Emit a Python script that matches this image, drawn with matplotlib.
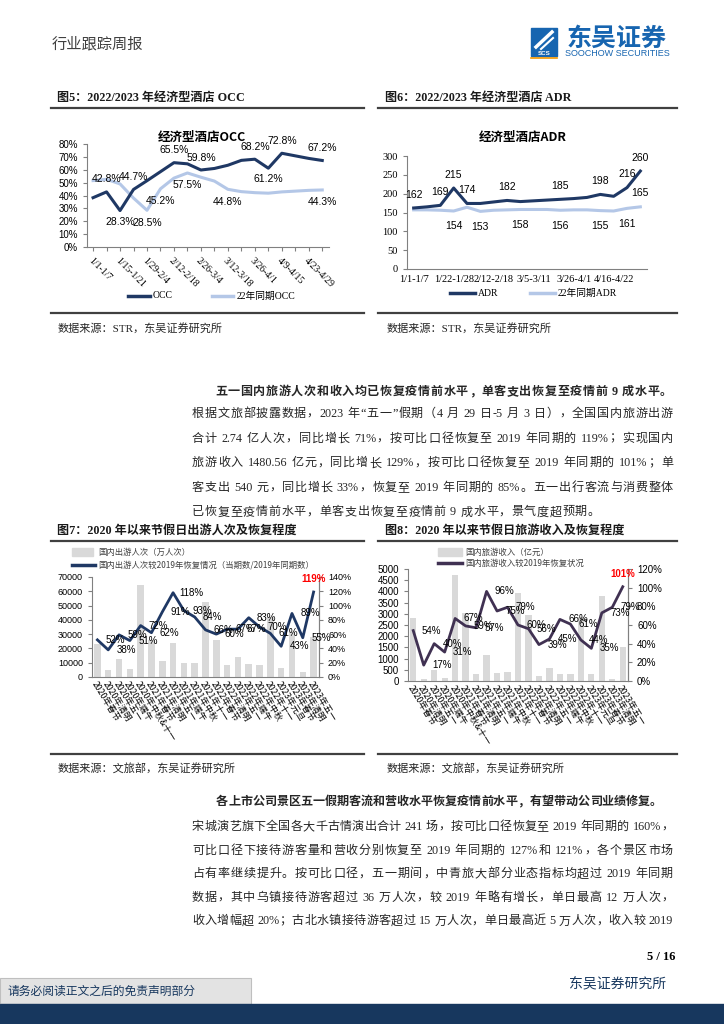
import re
import numpy as np
import matplotlib
matplotlib.use('Agg')
import matplotlib.pyplot as plt
from matplotlib.lines import Line2D
from matplotlib.patches import Rectangle

plt.rcParams['font.family'] = ['Liberation Sans', 'Noto Sans CJK SC']
plt.rcParams['axes.unicode_minus'] = False

SERIF = ['Liberation Serif', 'Noto Sans CJK SC']
SANS = ['Liberation Sans', 'Noto Sans CJK SC']
CJK = ['Noto Sans CJK SC', 'DejaVu Sans']

# ---------------- data ----------------
weeks = ['1/1-1/7', '1/8-1/14', '1/15-1/21', '1/22-1/28', '1/29-2/4', '2/5-2/11',
         '2/12-2/18', '2/19-2/25', '2/26-3/4', '3/5-3/11', '3/12-3/18', '3/19-3/25',
         '3/26-4/1', '4/2-4/8', '4/9-4/15', '4/16-4/22', '4/23-4/29', '4/30-5/6']
occ_2023 = [38.3, 42.8, 28.3, 44.7, 51.5, 58.5, 65.5, 64.6, 59.8, 61.0, 63.5, 67.3,
            68.2, 61.2, 72.8, 70.8, 68.8, 67.2]
occ_2022 = [51.6, 52.6, 49.0, 38.0, 28.5, 45.2, 53.5, 57.5, 54.2, 51.2, 44.8, 43.0,
            42.2, 41.8, 42.8, 43.4, 44.0, 44.3]
adr_2023 = [162, 165, 169, 215, 174, 174, 178, 182, 179, 181, 183, 185, 187, 190,
            198, 193, 216, 260]
adr_2022 = [157, 157, 156, 154, 164, 153, 156, 157, 158, 158, 158, 156, 157, 157,
            155, 154, 161, 165]

holidays = ['2020年春节', '2020年清明', '2020年五一', '2020年端午', '2020年中秋&十一',
            '2021年春节', '2021年清明', '2021年五一', '2021年端午', '2021年中秋', '2021年十一',
            '2022年春节', '2022年清明', '2022年五一', '2022年端午', '2022年中秋', '2022年十一',
            '2023年元旦', '2023年春节', '2023年清明', '2023年五一']
trips = [23000, 5100, 12400, 5400, 64600, 25600, 11000, 23800, 9600, 9600, 52500,
         25900, 8200, 13800, 8900, 8200, 42200, 6100, 31500, 3300, 28000]
trips_rec = [52, 38, 59, 51, 72, 62, 91, 118, 93, 84, 66, 60, 67, 67, 83, 70, 61,
             43, 89, 55, 119]
income = [2830, 100, 510, 150, 4715, 3050, 300, 1180, 345, 390, 3920, 2950, 210,
          570, 300, 315, 2870, 300, 3800, 90, 1510]
income_rec = [54, 17, 40, 31, 67, 59, 57, 96, 75, 79, 60, 56, 39, 45, 66, 61, 44,
              35, 73, 79, 101]

# labelled points (index, above=True / below=False)
occ23_lab = [(1, True), (2, False), (3, True), (6, True), (8, True), (12, True),
             (13, False), (14, True), (17, True)]
occ22_lab = [(4, False), (5, False), (7, False), (10, False), (17, False)]
adr23_lab = [0, 2, 3, 4, 7, 11, 14, 16, 17]
adr22_lab = [(3, False), (5, False), (8, False), (11, False), (14, False),
             (16, False), (17, True)]

NAVY = '#1f3864'
LIGHT = '#b4c7e7'
PURPLE = '#403152'
GREY_BAR = '#d9d9d9'
TXT = '#262626'

W, H = 724, 1024
fig = plt.figure(figsize=(7.24, 10.24), dpi=100)


def fx(x):
    return x / W


def fy(y):
    return 1 - y / H


def ax_at(l, t, r, b):
    return fig.add_axes([fx(l), fy(b), (r - l) / W, (b - t) / H])


def hline(x0, x1, y, color='#404040', lw=1.6):
    fig.add_artist(Line2D([fx(x0), fx(x1)], [fy(y), fy(y)], transform=fig.transFigure,
                          color=color, lw=lw))


def text_line(s, x0, y, x1=None, size=8.7, weight='normal', family=SERIF, color=TXT):
    "Places a line of text, spreading the tokens so the line fills x0..x1."
    r = fig.canvas.get_renderer()
    toks = re.findall(r'[0-9A-Za-z.%/\-&]+| |.', s)
    arts, widths = [], []
    for t in toks:
        if t == ' ':
            arts.append(None)
            widths.append(3.0)
            continue
        a = fig.text(0, fy(y), t, fontsize=size, fontweight=weight, family=family,
                     color=color, va='center', ha='left')
        arts.append(a)
        widths.append(a.get_window_extent(r).width)
    gap = 0.6
    if x1 is not None and len(toks) > 1:
        gap = ((x1 - x0) - sum(widths)) / (len(toks) - 1)
    x = x0
    for a, w in zip(arts, widths):
        if a is not None:
            a.set_x(fx(x))
        x += w + gap


def style_axis(ax, color='#808080'):
    for s in ['top', 'right']:
        ax.spines[s].set_visible(False)
    for s in ['left', 'bottom']:
        ax.spines[s].set_color(color)
        ax.spines[s].set_linewidth(0.8)
    ax.tick_params(colors=color, length=3, width=0.8, labelcolor='black')
    ax.set_facecolor('none')


# ---------------- header ----------------
fig.text(fx(52), fy(44), '行业跟踪周报', fontsize=11, family=CJK, color='#404040',
         va='center')
fig.add_artist(Rectangle((fx(531), fy(51)), 26 / W, 23 / H, transform=fig.transFigure,
                         color='#1765b0'))
fig.add_artist(Line2D([fx(536), fx(552)], [fy(47), fy(32)], transform=fig.transFigure,
                      color='white', lw=2.5))
fig.add_artist(Line2D([fx(541), fx(553)], [fy(49), fy(38)], transform=fig.transFigure,
                      color='white', lw=1.5))
fig.add_artist(Rectangle((fx(531), fy(56)), 26 / W, 5 / H, transform=fig.transFigure,
                         color='#1765b0'))
fig.text(fx(544), fy(53.5), 'SCS', fontsize=4.5, color='white', weight='bold',
         ha='center', va='center')
hline(531, 557, 57.5, color='#f39800', lw=1.2)
fig.text(fx(617), fy(39), '东吴证券', fontsize=18, family=CJK, weight='bold',
         color='#1765b0', ha='center', va='center')
fig.text(fx(617), fy(54), 'SOOCHOW SECURITIES', fontsize=6.5, color='#1765b0',
         ha='center', va='center')

# ---------------- figure titles ----------------
fig.text(fx(57), fy(98), '图5：2022/2023 年经济型酒店 OCC', fontsize=8.7, family=SERIF,
         weight='bold', va='center', color='#1a1a1a')
fig.text(fx(385), fy(98), '图6：2022/2023 年经济型酒店 ADR', fontsize=8.7, family=SERIF,
         weight='bold', va='center', color='#1a1a1a')
hline(51, 364, 108)
hline(378, 677, 108)

# ---------------- OCC chart ----------------
x = np.arange(len(weeks))
ax = ax_at(87, 144, 329, 247)
ax.plot(x, occ_2022, color=LIGHT, lw=2.2)
ax.plot(x, occ_2023, color=NAVY, lw=2.2)
ax.set_xlim(-0.45, 17.5)
ax.set_ylim(0, 80)
ax.set_yticks(range(0, 81, 10))
ax.set_yticklabels([f'{v}%' for v in range(0, 81, 10)], fontsize=7, family=SANS)
ax.set_xticks(x)
ax.set_xticklabels([w if i % 2 == 0 else '' for i, w in enumerate(weeks)], rotation=-45,
                   ha='left', va='top', rotation_mode='anchor', fontsize=7, family=SERIF)
style_axis(ax)
for i, up in occ23_lab:
    ax.annotate(f'{occ_2023[i]:.1f}%', (i, occ_2023[i]), xytext=(0, 9 if up else -8),
                textcoords='offset points', ha='center', va='center', fontsize=7.5)
for i, up in occ22_lab:
    ax.annotate(f'{occ_2022[i]:.1f}%', (i, occ_2022[i]), xytext=(0, 9 if up else -9),
                textcoords='offset points', ha='center', va='center', fontsize=7.5)
fig.text(fx(202), fy(137), '经济型酒店OCC', fontsize=9, family=CJK, weight='bold',
         ha='center', va='center')
hline(128, 150, 296, color=NAVY, lw=2.5)
fig.text(fx(153), fy(296), 'OCC', fontsize=7, family=SERIF, va='center')
hline(212, 233, 296, color=LIGHT, lw=2.5)
fig.text(fx(237), fy(296), '22年同期OCC', fontsize=7, family=SERIF, va='center')

# ---------------- ADR chart ----------------
ax = ax_at(407, 156, 647, 269)
ax.plot(x, adr_2022, color=LIGHT, lw=2.2)
ax.plot(x, adr_2023, color=NAVY, lw=2.2)
ax.set_xlim(-0.5, 17.5)
ax.set_ylim(0, 300)
ax.set_yticks(range(0, 301, 50))
ax.set_yticklabels([str(v) for v in range(0, 301, 50)], fontsize=7.5, family=SERIF)
ax.set_xticks(x[::3])
ax.set_xticklabels(weeks[::3], fontsize=7.5, family=SERIF)
style_axis(ax)
ax.tick_params(axis='x', length=0, pad=4)
for i in adr23_lab:
    ax.annotate(str(adr_2023[i]), (i, adr_2023[i]), xytext=(0, 9.5),
                textcoords='offset points', ha='center', va='center', fontsize=7.5)
for i, up in adr22_lab:
    ax.annotate(str(adr_2022[i]), (i, adr_2022[i]), xytext=(0, 10 if up else -11),
                textcoords='offset points', ha='center', va='center', fontsize=7.5)
fig.text(fx(523), fy(137), '经济型酒店ADR', fontsize=9, family=CJK, weight='bold',
         ha='center', va='center')
hline(450, 475, 293, color=NAVY, lw=2.5)
fig.text(fx(478), fy(293), 'ADR', fontsize=7, family=SERIF, va='center')
hline(530, 555, 293, color=LIGHT, lw=2.5)
fig.text(fx(558), fy(293), '22年同期ADR', fontsize=7, family=SERIF, va='center')

hline(51, 364, 313)
hline(378, 677, 313)
fig.text(fx(58), fy(328), '数据来源：STR，东吴证券研究所', fontsize=8, family=SERIF,
         va='center', color=TXT)
fig.text(fx(387), fy(328), '数据来源：STR，东吴证券研究所', fontsize=8, family=SERIF,
         va='center', color=TXT)

# ---------------- paragraph 1 ----------------
text_line('五一国内旅游人次和收入均已恢复疫情前水平，单客支出恢复至疫情前 9 成水平。',
          215, 392, 672, weight='bold')
para1 = ['根据文旅部披露数据，2023 年“五一”假期（4 月 29 日-5 月 3 日），全国国内旅游出游',
         '合计 2.74 亿人次，同比增长 71%，按可比口径恢复至 2019 年同期的 119%；实现国内',
         '旅游收入 1480.56 亿元，同比增长 129%，按可比口径恢复至 2019 年同期的 101%；单',
         '客支出 540 元，同比增长 33%，恢复至 2019 年同期的 85%。五一出行客流与消费整体',
         '已恢复至疫情前水平，单客支出恢复至疫情前 9 成水平，景气度超预期。']
for k, line in enumerate(para1):
    text_line(line, 192, 414 + 24.6 * k, None if k == len(para1) - 1 else 673)

# ---------------- figure 7 / 8 titles ----------------
fig.text(fx(57), fy(531), '图7：2020 年以来节假日出游人次及恢复程度', fontsize=8.7,
         family=SERIF, weight='bold', va='center', color='#1a1a1a')
fig.text(fx(385), fy(531), '图8：2020 年以来节假日旅游收入及恢复程度', fontsize=8.7,
         family=SERIF, weight='bold', va='center', color='#1a1a1a')
hline(51, 364, 541)
hline(378, 677, 541)


def holiday_chart(l, t, r, b, bars, rec, ymax, ystep, rmax, color, fsize):
    xx = np.arange(len(holidays))
    ax = ax_at(l, t, r, b)
    ax.bar(xx, bars, width=0.6, color=GREY_BAR)
    ax.set_xlim(-0.5, len(holidays) - 0.5)
    ax.set_ylim(0, ymax)
    ax.set_yticks(np.arange(0, ymax + 1, ystep))
    ax.set_yticklabels([str(int(v)) for v in np.arange(0, ymax + 1, ystep)],
                       fontsize=fsize, family=SANS)
    ax.set_xticks(xx)
    ax.set_xticklabels(holidays, rotation=-58, ha='left', va='top',
                       rotation_mode='anchor', fontsize=6.3, family=CJK)
    style_axis(ax)
    ax.tick_params(axis='x', length=0, pad=2)
    ax.spines['right'].set_visible(True)
    ax.spines['right'].set_color('#808080')
    ax2 = ax.twinx()
    ax2.plot(xx, [v / 100 for v in rec], color=color, lw=2)
    ax2.set_ylim(0, rmax / 100)
    ticks = np.arange(0, rmax + 1, 20)
    ax2.set_yticks(ticks / 100)
    ax2.set_yticklabels([f'{int(v)}%' for v in ticks], fontsize=fsize, family=SANS)
    for s in ['top', 'left', 'bottom']:
        ax2.spines[s].set_visible(False)
    ax2.spines['right'].set_color('#808080')
    ax2.tick_params(colors='#808080', length=3, labelcolor='black')
    for i, v in enumerate(rec):
        if i == len(rec) - 1:
            ax2.annotate(f'{v}%', (i, v / 100), xytext=(0, 9), textcoords='offset points',
                         ha='center', va='center', fontsize=7, color='#ff0000',
                         weight='bold')
        else:
            ax2.annotate(f'{v}%', (i, v / 100), xytext=(13, 0), textcoords='offset points',
                         ha='center', va='center', fontsize=7)
    return ax


holiday_chart(92, 577, 319, 677, trips, trips_rec, 70000, 10000, 140, NAVY, 6.5)
fig.add_artist(Rectangle((fx(72), fy(556)), 21 / W, 8 / H, transform=fig.transFigure,
                         color=GREY_BAR))
fig.text(fx(98), fy(552), '国内出游人次（万人次）', fontsize=6, family=CJK, va='center',
         color='#404040')
hline(72, 95, 565, color=NAVY, lw=2.5)
fig.text(fx(98), fy(565), '国内出游人次较2019年恢复情况（当期数/2019年同期数）', fontsize=6,
         family=CJK, va='center', color='#404040')

holiday_chart(408, 569, 628, 681, income, income_rec, 5000, 500, 120, PURPLE, 7)
fig.add_artist(Rectangle((fx(438), fy(556)), 24 / W, 8 / H, transform=fig.transFigure,
                         color=GREY_BAR))
fig.text(fx(465), fy(552), '国内旅游收入（亿元）', fontsize=6, family=CJK, va='center',
         color='#404040')
hline(438, 462, 563, color=PURPLE, lw=2.5)
fig.text(fx(465), fy(563), '国内旅游收入较2019年恢复状况', fontsize=6, family=CJK,
         va='center', color='#404040')

hline(51, 364, 754)
hline(378, 677, 754)
fig.text(fx(58), fy(769), '数据来源：文旅部，东吴证券研究所', fontsize=8, family=SERIF,
         va='center', color=TXT)
fig.text(fx(387), fy(769), '数据来源：文旅部，东吴证券研究所', fontsize=8, family=SERIF,
         va='center', color=TXT)

# ---------------- paragraph 2 ----------------
text_line('各上市公司景区五一假期客流和营收水平恢复疫情前水平，有望带动公司业绩修复。',
          216, 802, 662, weight='bold')
para2 = ['宋城演艺旗下全国各大千古情演出合计 241 场，按可比口径恢复至 2019 年同期的 160%，',
         '可比口径下接待游客量和营收分别恢复至 2019 年同期的 127%和 121%，各个景区市场',
         '占有率继续提升。按可比口径，五一期间，中青旅大部分业态指标均超过 2019 年同期',
         '数据，其中乌镇接待游客超过 36 万人次，较 2019 年略有增长，单日最高 12 万人次，',
         '收入增幅超 20%；古北水镇接待游客超过 15 万人次，单日最高近 5 万人次，收入较 2019']
for k, line in enumerate(para2):
    text_line(line, 192, 827 + 23.6 * k, 673)

# ---------------- footer ----------------
fig.text(fx(675), fy(957), '5 / 16', fontsize=9, family=SERIF, weight='bold',
         ha='right', va='center')
fig.text(fx(666), fy(984), '东吴证券研究所', fontsize=10, family=CJK, ha='right',
         va='center', color='#17375e')
fig.add_artist(Rectangle((0, fy(1004)), fx(251), 26 / H, transform=fig.transFigure,
                         facecolor='#e3e3e3', edgecolor='#bfbfbf', lw=0.8))
fig.text(fx(8), fy(991), '请务必阅读正文之后的免责声明部分', fontsize=8.5, family=CJK,
         va='center', color='#17375e')
fig.add_artist(Rectangle((0, 0), 1, 20 / H, transform=fig.transFigure,
                         color='#17375e'))

fig.savefig('out.png', dpi=100)
